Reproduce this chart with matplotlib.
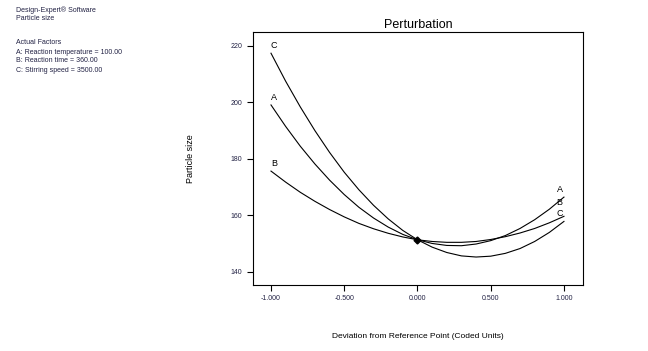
import matplotlib
matplotlib.use("Agg")
import matplotlib.pyplot as plt

plt.rcParams['font.family'] = ['Liberation Sans', 'DejaVu Sans']

x = [-1.0, -0.9, -0.8, -0.7, -0.6, -0.5, -0.4, -0.3, -0.2, -0.1, 0.0,
     0.1, 0.2, 0.3, 0.4, 0.5, 0.6, 0.7, 0.8, 0.9, 1.0]
curve_A = [199.0, 191.4, 184.4, 178.1, 172.4, 167.3, 162.8, 159.0, 155.8, 153.2, 151.3,
           150.0, 149.3, 149.2, 149.8, 151.0, 152.8, 155.3, 158.4, 162.1, 166.4]
curve_B = [175.6, 171.7, 168.1, 164.9, 162.0, 159.4, 157.1, 155.2, 153.6, 152.3, 151.3,
           150.7, 150.4, 150.4, 150.7, 151.4, 152.4, 153.7, 155.3, 157.3, 159.6]
curve_C = [217.3, 207.4, 198.3, 189.9, 182.2, 175.2, 169.0, 163.5, 158.7, 154.6, 151.3,
           148.7, 146.8, 145.6, 145.2, 145.5, 146.5, 148.2, 150.7, 153.9, 157.8]
labels = ['A', 'B', 'C']
xticks = [-1.0, -0.5, 0.0, 0.5, 1.0]
xticklabels = ['-1.000', '-0.500', '0.000', '0.500', '1.000']
yticks = [140, 160, 180, 200, 220]
ref_point = (0.0, 151.3)
end_label_y = {'A': 169.0, 'B': 164.4, 'C': 160.6}

fig = plt.figure(figsize=(6.48, 3.51), dpi=100)
ax = fig.add_axes([0.3904, 0.188, 0.5093, 0.7208])

for name, ys in zip(labels, [curve_A, curve_B, curve_C]):
    ax.plot(x, ys, color='black', lw=0.8)
    ax.text(x[0] + 0.02, ys[0] + 1.2, name, ha='center', va='bottom', fontsize=6.5)
    ax.text(x[-1] - 0.03, end_label_y[name], name, ha='center', va='center', fontsize=6.5)

ax.plot([ref_point[0]], [ref_point[1]], marker='D', color='black', ms=3.5)

ax.set_xlim(-1.123, 1.130)
ax.set_ylim(135.3, 224.8)
ax.set_xticks(xticks)
ax.set_xticklabels(xticklabels)
ax.set_yticks(yticks)
ax.tick_params(axis='both', direction='out', length=4, width=0.8, labelsize=5, colors='black')
ax.tick_params(axis='both', labelcolor='#222244')
for s in ax.spines.values():
    s.set_linewidth(0.8)

ax.set_title('Perturbation', fontsize=9, pad=3)
ax.set_xlabel('Deviation from Reference Point (Coded Units)', fontsize=6, labelpad=22)
ax.set_ylabel('Particle size', fontsize=6.5, labelpad=26)

left_text = [(10, 'Design-Expert\u00ae Software'), (19, 'Particle size'),
             (43, 'Actual Factors'), (52, 'A: Reaction temperature = 100.00'),
             (61, 'B: Reaction time = 360.00'), (70, 'C: Stirring speed = 3500.00')]
for ypix, t in left_text:
    fig.text(16 / 648, 1 - ypix / 351, t, fontsize=5, va='center', ha='left', color='#222244')

fig.savefig('out.png', dpi=100)
